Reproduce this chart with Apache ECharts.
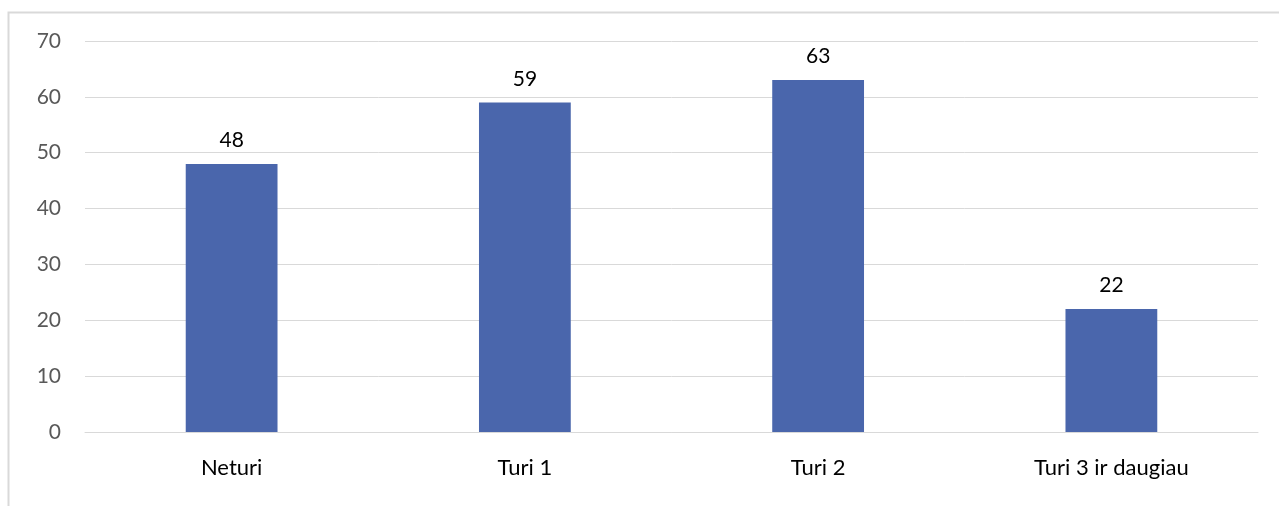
<!DOCTYPE html>
<html>
<head>
<meta charset="utf-8">
<script src="https://cdn.jsdelivr.net/npm/echarts@6/dist/echarts.min.js"></script>
<style>
html,body{margin:0;padding:0;background:#fff;}
#chart{width:1279px;height:506px;}
</style>
</head>
<body>
<div id="chart"></div>
<script>
const categories = ['Neturi', 'Turi 1', 'Turi 2', 'Turi 3 ir daugiau'];
const values = [48, 59, 63, 22];

const chart = echarts.init(document.getElementById('chart'));
const fontFamily = 'Lato, "Open Sans", sans-serif';
chart.setOption({
  animation: false,
  backgroundColor: '#ffffff',
  graphic: [{
    type: 'rect',
    shape: { x: 8.5, y: 12.5, width: 1400, height: 700 },
    style: { fill: 'none', stroke: '#d9d9d9', lineWidth: 2 },
    silent: true
  }],
  grid: { left: 85, right: 21, top: 41, bottom: 74, containLabel: false },
  xAxis: {
    type: 'category',
    data: categories,
    axisLine: { show: true, lineStyle: { color: '#d9d9d9', width: 1 } },
    axisTick: { show: false },
    axisLabel: { color: '#000000', fontSize: 22, fontFamily: fontFamily, margin: 25 }
  },
  yAxis: {
    type: 'value',
    min: 0, max: 70, interval: 10,
    axisLine: { show: false },
    axisTick: { show: false },
    splitLine: { lineStyle: { color: '#d9d9d9', width: 1 } },
    axisLabel: { color: '#595959', fontSize: 21, fontFamily: fontFamily, margin: 24 }
  },
  series: [{
    type: 'bar',
    data: values,
    barWidth: '31.3%',
    itemStyle: { color: '#4a66ac' },
    label: { show: true, position: 'top', distance: 13, color: '#000000', fontSize: 21, fontFamily: fontFamily }
  }]
});
</script>
</body>
</html>
